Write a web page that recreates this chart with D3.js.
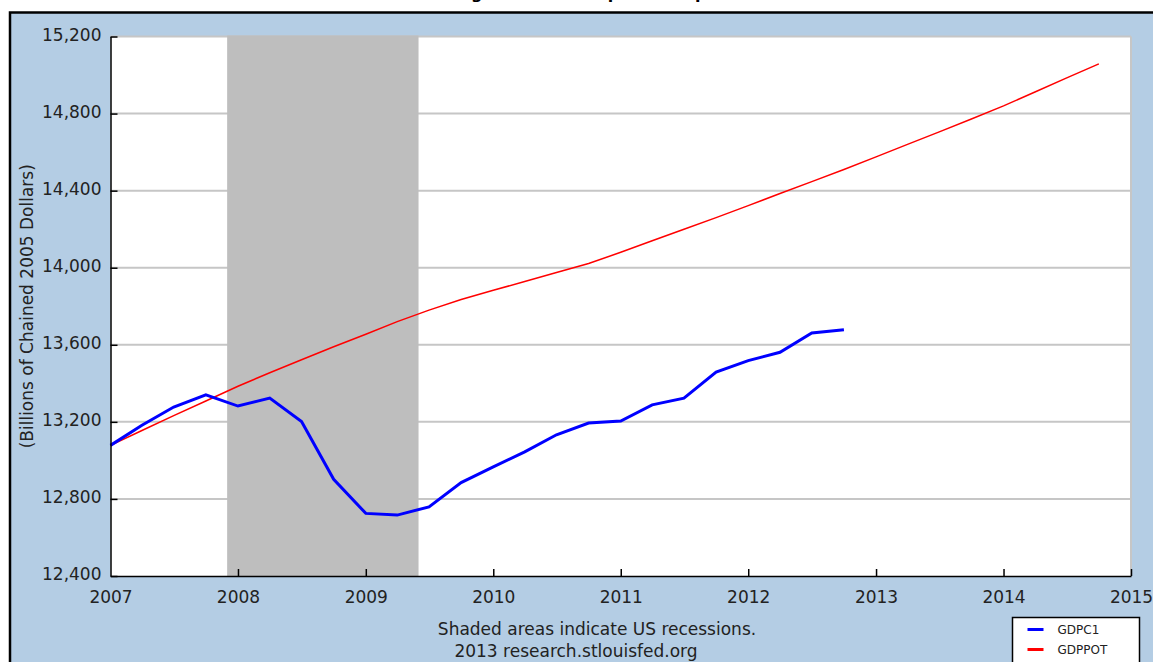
<!DOCTYPE html>
<html>
<head>
<meta charset="utf-8">
<script src="https://cdn.jsdelivr.net/npm/d3@7"></script>
<style>
  html, body { margin: 0; padding: 0; background: #fff; overflow: hidden; }
  text { font-family: "DejaVu Sans", Verdana, sans-serif; }
</style>
</head>
<body>
<div id="chart"></div>
<script>
var gdpc1_dates = [
    "2007-01-01", "2007-04-01", "2007-07-01", "2007-10-01",
    "2008-01-01", "2008-04-01", "2008-07-01", "2008-10-01",
    "2009-01-01", "2009-04-01", "2009-07-01", "2009-10-01",
    "2010-01-01", "2010-04-01", "2010-07-01", "2010-10-01",
    "2011-01-01", "2011-04-01", "2011-07-01", "2011-10-01",
    "2012-01-01", "2012-04-01", "2012-07-01", "2012-10-01"
];
var gdpc1_values = [
    13078, 13182, 13277, 13340,
    13282, 13323, 13202, 12902,
    12725, 12716, 12759, 12885,
    12966, 13044, 13133, 13194,
    13204, 13288, 13323, 13458,
    13518, 13561, 13661, 13678
];
var gdppot_dates = [
    "2007-01-01", "2007-04-01", "2007-07-01", "2007-10-01",
    "2008-01-01", "2008-04-01", "2008-07-01", "2008-10-01",
    "2009-01-01", "2009-04-01", "2009-07-01", "2009-10-01",
    "2010-01-01", "2010-04-01", "2010-07-01", "2010-10-01",
    "2011-01-01", "2011-04-01", "2011-07-01", "2011-10-01",
    "2012-01-01", "2012-04-01", "2012-07-01", "2012-10-01",
    "2013-01-01", "2013-04-01", "2013-07-01", "2013-10-01",
    "2014-01-01", "2014-04-01", "2014-07-01", "2014-10-01"
];
var gdppot_values = [
    13078, 13155, 13232, 13308,
    13385, 13455, 13522, 13590,
    13655, 13720, 13780, 13835,
    13883, 13928, 13975, 14022,
    14080, 14140, 14200, 14260,
    14322, 14385, 14447, 14510,
    14575, 14640, 14705, 14772,
    14840, 14912, 14985, 15058
];
var recession_start = "2007-12-01",
    recession_end = "2009-06-01";
var year_ticks = [2007, 2008, 2009, 2010, 2011, 2012, 2013, 2014, 2015];
var value_ticks = [12400, 12800, 13200, 13600, 14000, 14400, 14800, 15200];
var series_names = ["GDPC1", "GDPPOT"];
var series_colours = ["#0000ff", "#ff0000"];

var total_width = 1153,
    total_height = 662,
    margin = {top: 36.5, right: 22, bottom: 86, left: 110.5},
    width = 1131 - margin.left,
    height = 576 - margin.top,
    bg_blue = "#b4cde4",
    text_col = "#222",
    font_size = "17px",
    parse = d3.timeParse("%Y-%m-%d"),
    fmt = d3.format(",");

var svg = d3.select("#chart").append("svg")
    .attr("width", total_width)
    .attr("height", total_height);

// white strip with the (mostly cropped) title, then the blue frame
svg.append("rect")
    .attr("width", total_width).attr("height", total_height)
    .style("fill", "#fff");

var title = svg.append("text")
    .attr("x", 0)
    .attr("y", -1)
    .style("font-size", "16px")
    .style("font-weight", "bold")
    .style("fill", "#000")
    .text("Real GDP growth vs. the potential path");
// line the cropped title's descenders up with the reference
var g_pos = title.node().getStartPositionOfChar(title.text().indexOf("g")).x;
title.attr("x", 475 - g_pos - 4);

svg.append("rect")
    .attr("x", 10).attr("y", 12.5)
    .attr("width", total_width + 10).attr("height", total_height)
    .style("fill", bg_blue)
    .style("stroke", "#000")
    .style("stroke-width", 2.5);

var chart = svg.append("g")
    .attr("transform", "translate(" + margin.left + "," + margin.top + ")");

var xScale = d3.scaleTime()
    .domain([new Date(2007, 0, 1), new Date(2015, 0, 1)])
    .range([0, width]);
var yScale = d3.scaleLinear()
    .domain([12400, 15200])
    .range([height, 0]);

chart.append("rect")
    .attr("width", width).attr("height", height)
    .style("fill", "#fff");

// horizontal grid
chart.append("g")
    .attr("class", "grid")
    .selectAll("line")
    .data(value_ticks.slice(1))
    .enter().append("line")
        .attr("x1", 0).attr("x2", width)
        .attr("y1", function(d) { return yScale(d); })
        .attr("y2", function(d) { return yScale(d); })
        .style("stroke", "#c6c6c6")
        .style("stroke-width", 2);

chart.append("line")
    .attr("x1", width).attr("x2", width)
    .attr("y1", 0).attr("y2", height)
    .style("stroke", "#c6c6c6")
    .style("stroke-width", 2);

// recession shading
chart.append("rect")
    .attr("x", xScale(parse(recession_start)))
    .attr("y", -1)
    .attr("width", xScale(parse(recession_end)) - xScale(parse(recession_start)))
    .attr("height", height + 1)
    .style("fill", "#bebebe");

var line = d3.line()
    .x(function(d) { return xScale(d.date); })
    .y(function(d) { return yScale(d.value); });

var pot_data = gdppot_dates.map(function(d, i) { return {date: parse(d), value: gdppot_values[i]}; });
var gdp_data = gdpc1_dates.map(function(d, i) { return {date: parse(d), value: gdpc1_values[i]}; });

chart.append("path")
    .datum(pot_data)
    .attr("d", line)
    .style("fill", "none")
    .style("stroke", series_colours[1])
    .style("stroke-width", 1.5);

chart.append("path")
    .datum(gdp_data)
    .attr("d", line)
    .style("fill", "none")
    .style("stroke", series_colours[0])
    .style("stroke-width", 3);

// axes
var xAxis = d3.axisBottom(xScale)
    .tickValues(year_ticks.map(function(y) { return new Date(y, 0, 1); }))
    .tickFormat(d3.timeFormat("%Y"))
    .tickSizeInner(-7).tickSizeOuter(0).tickPadding(15);
var yAxis = d3.axisLeft(yScale)
    .tickValues(value_ticks)
    .tickFormat(fmt)
    .tickSizeInner(-7).tickSizeOuter(0).tickPadding(9);

var x_axis_elem = chart.append("g")
    .attr("transform", "translate(0," + height + ")")
    .call(xAxis);
var y_axis_elem = chart.append("g")
    .call(yAxis);

[x_axis_elem, y_axis_elem].forEach(function(ax) {
    ax.select(".domain").style("stroke", "#000").style("stroke-width", 1.5);
    ax.selectAll(".tick line").style("stroke", "#000").style("stroke-width", 1.5);
    ax.selectAll(".tick text")
        .style("font-family", "'DejaVu Sans', Verdana, sans-serif")
        .style("font-size", font_size)
        .style("fill", text_col);
});
x_axis_elem.select(".tick line").remove(); // no tick at 2007
y_axis_elem.selectAll(".tick text").attr("dy", "0.22em");

svg.append("text")
    .attr("transform", "translate(33," + (margin.top + height / 2) + ") rotate(-90)")
    .style("text-anchor", "middle")
    .style("font-size", font_size)
    .style("fill", text_col)
    .text("(Billions of Chained 2005 Dollars)");

// footer
svg.append("text")
    .attr("x", 597).attr("y", 635)
    .style("text-anchor", "middle")
    .style("font-size", font_size)
    .style("fill", text_col)
    .text("Shaded areas indicate US recessions.");
svg.append("text")
    .attr("x", 576).attr("y", 657)
    .style("text-anchor", "middle")
    .style("font-size", font_size)
    .style("fill", text_col)
    .text("2013 research.stlouisfed.org");

// legend
var legend = svg.append("g")
    .attr("transform", "translate(1012.5,617.5)");
legend.append("rect")
    .attr("width", 127).attr("height", 60)
    .style("fill", "#fff")
    .style("stroke", "#000")
    .style("stroke-width", 1.5);
var leg_item = legend.selectAll(".leg")
    .data(series_names)
    .enter().append("g")
        .attr("class", "leg")
        .attr("transform", function(d, i) { return "translate(0," + (12 + i * 20) + ")"; });
leg_item.append("line")
    .attr("x1", 15).attr("x2", 31)
    .style("stroke", function(d, i) { return series_colours[i]; })
    .style("stroke-width", 3);
leg_item.append("text")
    .attr("x", 45).attr("dy", "0.35em")
    .style("font-size", "12px")
    .style("fill", text_col)
    .text(function(d) { return d; });
</script>
</body>
</html>
